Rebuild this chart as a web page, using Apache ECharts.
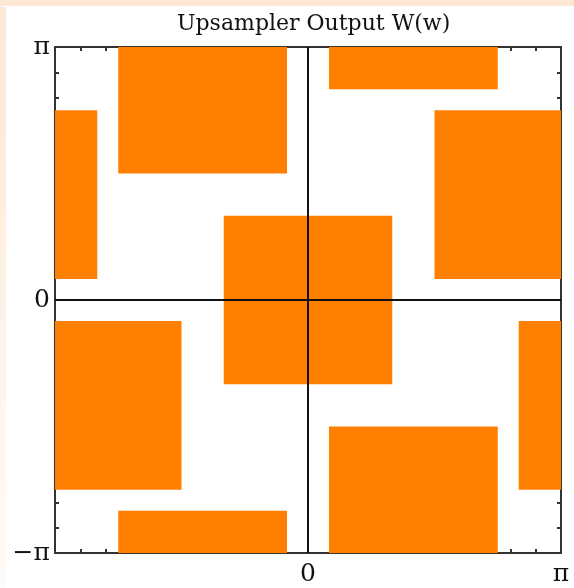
<!DOCTYPE html>
<html>
<head>
<meta charset="utf-8">
<script src="https://cdn.jsdelivr.net/npm/echarts@6/dist/echarts.min.js"></script>
<style>
html,body{margin:0;padding:0;background:#fff;}
#chart{width:574px;height:588px;}
</style>
</head>
<body>
<div id="chart"></div>
<script>
// Axis units are multiples of pi (-1 .. 1 means -π .. π)
var titleText = 'Upsampler Output W(w)';
var tickLabels = { '-1': '\u2212\u03c0', '0': '0', '1': '\u03c0' };
// Rectangles: [x0, x1, y0, y1] in units of π
var rectsTop = [
  [-0.75, -0.083, 0.5, 1],
  [0.083, 0.75, 0.833, 1]
];
var rectsMidUpper = [
  [-1, -0.833, 0.083, 0.75],
  [0.5, 1, 0.083, 0.75]
];
var rectsCenter = [
  [-0.333, 0.333, -0.333, 0.333]
];
var rectsMidLower = [
  [-1, -0.5, -0.75, -0.083],
  [0.833, 1, -0.75, -0.083]
];
var rectsBottom = [
  [-0.75, -0.083, -1, -0.833],
  [0.083, 0.75, -1, -0.5]
];
var allRects = [].concat(rectsTop, rectsMidUpper, rectsCenter, rectsMidLower, rectsBottom);

var chart = echarts.init(document.getElementById('chart'));
var font = 'DejaVu Serif';
function lab(v, allowed) {
  var key = Math.abs(v) < 1e-9 ? '0' : (Math.abs(v - 1) < 1e-9 ? '1' : (Math.abs(v + 1) < 1e-9 ? '-1' : null));
  if (key === null || allowed.indexOf(key) < 0) return '';
  return tickLabels[key];
}
var frameLine = { show: true, onZero: false, lineStyle: { color: '#333', width: 2 } };
var tick = { show: true, inside: true, length: 4, lineStyle: { color: '#333', width: 2 } };
function axis(type, pos, labels) {
  return {
    type: 'value', position: pos, min: -1, max: 1, interval: 0.1,
    axisLine: frameLine, axisTick: tick, splitLine: { show: false },
    axisLabel: labels ? {
      show: true, showMinLabel: true, showMaxLabel: true, hideOverlap: false,
      fontFamily: font, fontSize: 25, color: '#111',
      margin: type === 'x' ? 9 : 5,
      formatter: function (v) { return lab(v, labels); }
    } : { show: false }
  };
}
chart.setOption({
  animation: false,
  backgroundColor: '#fff',
  graphic: [
    { type: 'rect', shape: { x: 0, y: 0, width: 574, height: 6 }, style: { fill: '#fde8d6' }, z: -10 },
    { type: 'rect', shape: { x: 0, y: 7, width: 6, height: 581 },
      style: { fill: new echarts.graphic.LinearGradient(0, 0, 0, 1, [
        { offset: 0, color: '#fde8d6' }, { offset: 1, color: '#fffbf8' }]) }, z: -10 }
  ],
  title: {
    text: titleText, left: 172, top: 8,
    textStyle: { fontFamily: font, fontSize: 22, fontWeight: 'normal', color: '#111' }
  },
  grid: { left: 55, top: 47, width: 506, height: 506 },
  xAxis: [axis('x', 'bottom', ['0', '1']), axis('x', 'top', null)],
  yAxis: [axis('y', 'left', ['-1', '0', '1']), axis('y', 'right', null)],
  series: [
    {
      type: 'custom', z: 2,
      data: allRects,
      renderItem: function (params, api) {
        var p0 = api.coord([api.value(0), api.value(3)]);
        var p1 = api.coord([api.value(1), api.value(2)]);
        return { type: 'rect', shape: { x: p0[0], y: p0[1], width: p1[0] - p0[0], height: p1[1] - p0[1] },
          style: { fill: '#ff7f00' } };
      },
      encode: { x: [0, 1], y: [2, 3] }
    },
    {
      type: 'line', z: 10, symbol: 'none', silent: true,
      data: [[0, -1], [0, 1]],
      lineStyle: { color: '#111', width: 2 }
    },
    {
      type: 'line', z: 10, symbol: 'none', silent: true,
      data: [[-1, 0], [1, 0]],
      lineStyle: { color: '#111', width: 2 }
    }
  ]
});
</script>
</body>
</html>
